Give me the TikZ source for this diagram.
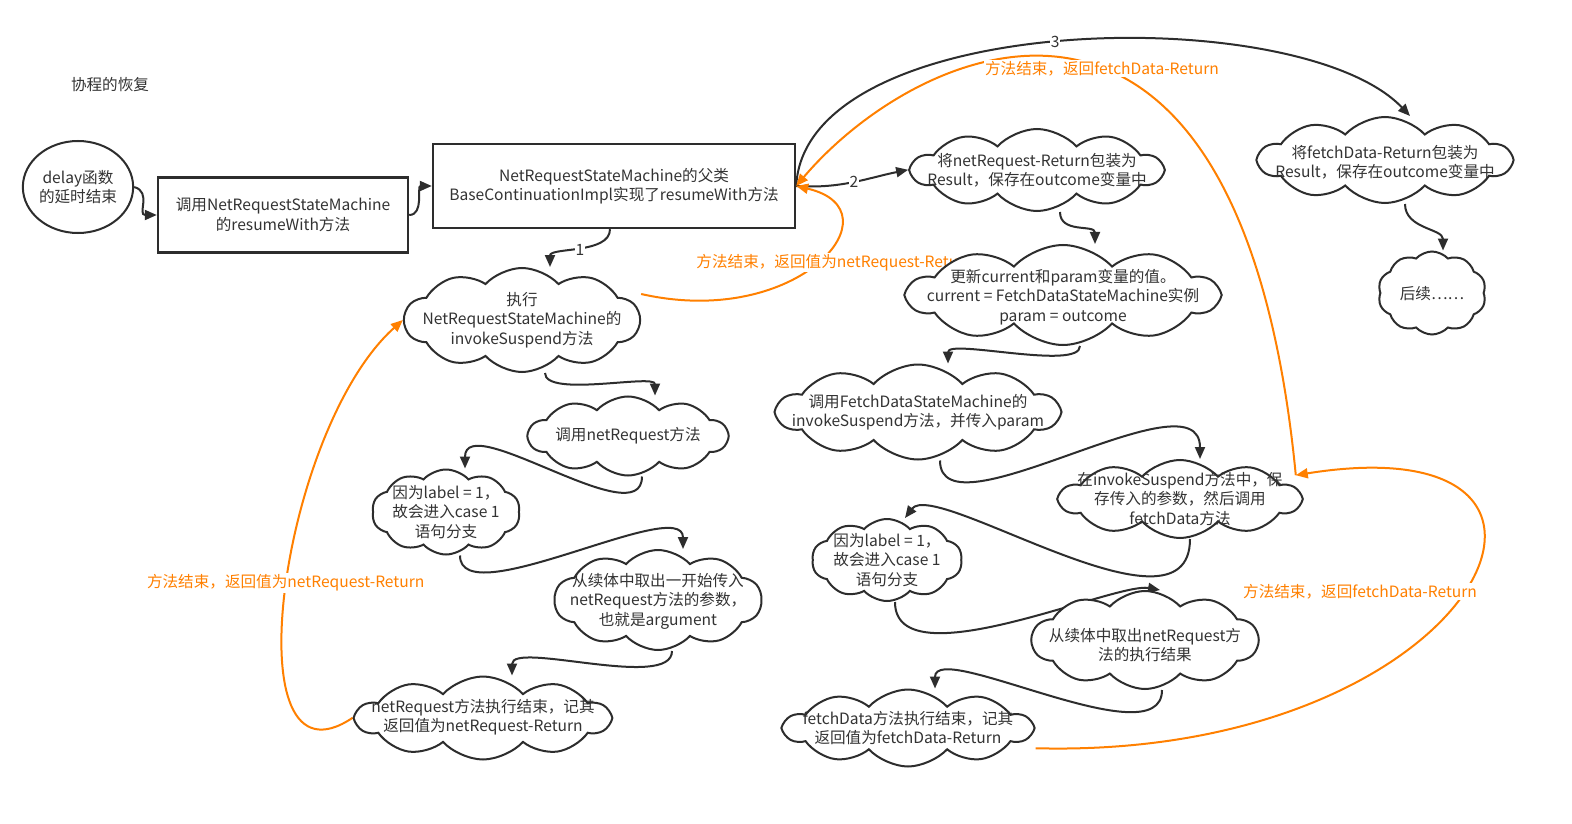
\documentclass[tikz,border=0pt]{standalone}
\usepackage{fontspec}
\setmainfont{Noto Sans CJK SC}
\usepackage{xcolor}
\usepackage{tikz}
\usetikzlibrary{arrows.meta, shapes.geometric, shapes.symbols, backgrounds}
\definecolor{ink}{RGB}{51,51,51}
\definecolor{edge}{RGB}{45,45,45}
\definecolor{orange}{RGB}{255,128,0}
\tikzset{
  txt/.style      ={font=\fontsize{15.6}{19.5}\selectfont, color=ink, align=center, inner sep=0pt},
  cloudbox/.style ={cloud, cloud puffs=10, cloud puff arc=95, cloud ignores aspect,
                    draw=edge, line width=2pt, fill=white, inner sep=0pt},
  rectbox/.style  ={rectangle, draw=edge, line width=2.4pt, fill=white, inner sep=0pt},
  arr/.style      ={-{Triangle[length=12pt, width=10pt]}, line width=2pt, color=edge},
  oarr/.style     ={-{Triangle[length=12pt, width=10pt]}, line width=2pt, color=orange},
  numlabel/.style ={txt, fill=white, inner sep=1pt},
  olabel/.style   ={txt, color=orange, fill=white, inner sep=1.5pt},
}

\begin{document}
\begin{tikzpicture}[x=1pt, y=-1pt]
\useasboundingbox (0,0) rectangle (1572,824);
\node[txt] (title) at (110,85) {协程的恢复};
\node[txt, ellipse, draw=edge, line width=2pt, fill=white, minimum width=104pt, minimum height=92pt] (delay) at (78,187) {delay函数\\的延时结束};
\node[txt, rectbox, minimum width=250pt, minimum height=75pt] (r1) at (283,215) {调用NetRequestStateMachine\\的resumeWith方法};
\node[txt, rectbox, minimum width=362pt, minimum height=84pt] (r2) at (614,186) {NetRequestStateMachine的父类\\BaseContinuationImpl实现了resumeWith方法};
% left column
\node[cloudbox, minimum width=235pt, minimum height=104pt] (cA) at (522,320) {};
\node[txt] (tA) at (522,320) {执行\\NetRequestStateMachine的\\invokeSuspend方法};
\node[cloudbox, minimum width=199pt, minimum height=79pt] (cB) at (628,436) {};
\node[txt] (tB) at (628,436) {调用netRequest方法};
\node[cloudbox, minimum width=148pt, minimum height=85pt] (cC) at (446,512) {};
\node[txt] (tC) at (446,512) {因为label = 1，\\故会进入case 1\\语句分支};
\node[cloudbox, minimum width=207pt, minimum height=100pt] (cD) at (658,600) {};
\node[txt] (tD) at (658,601) {从续体中取出一开始传入\\netRequest方法的参数，\\也就是argument};
\node[cloudbox, minimum width=253pt, minimum height=83pt] (cE) at (483,718) {};
\node[txt] (tE) at (483,717) {netRequest方法执行结束，记其\\返回值为netRequest-Return};
% right column
\node[cloudbox, minimum width=250pt, minimum height=82pt] (cF) at (1037,170) {};
\node[txt] (tF) at (1037,170) {将netRequest-Return包装为\\Result，保存在outcome变量中};
\node[cloudbox, minimum width=310pt, minimum height=100pt] (cG) at (1063,295) {};
\node[txt] (tG) at (1063,297) {更新current和param变量的值。\\current = FetchDataStateMachine实例\\param = outcome};
\node[cloudbox, minimum width=281pt, minimum height=95pt] (cH) at (918,412) {};
\node[txt] (tH) at (918,412) {调用FetchDataStateMachine的\\invokeSuspend方法，并传入param};
\node[cloudbox, minimum width=240pt, minimum height=78pt] (cI) at (1180,499) {};
\node[txt] (tI) at (1180,499) {在invokeSuspend方法中，保\\存传入的参数，然后调用\\fetchData方法};
\node[cloudbox, minimum width=150pt, minimum height=82pt] (cJ) at (887,560) {};
\node[txt] (tJ) at (887,560) {因为label = 1，\\故会进入case 1\\语句分支};
\node[cloudbox, minimum width=226pt, minimum height=98pt] (cK) at (1145,640) {};
\node[txt] (tK) at (1145,645) {从续体中取出netRequest方\\法的执行结果};
\node[cloudbox, minimum width=247pt, minimum height=77pt] (cL) at (908,728) {};
\node[txt] (tL) at (908,728) {fetchData方法执行结束，记其\\返回值为fetchData-Return};
\node[cloudbox, minimum width=252pt, minimum height=86pt] (cM) at (1385,160) {};
\node[txt] (tM) at (1385,162) {将fetchData-Return包装为\\Result，保存在outcome变量中};
\node[cloudbox, minimum width=108pt, minimum height=83pt] (cN) at (1432,293) {};
\node[txt] (tN) at (1432,294) {后续……};

\begin{scope}[on background layer]
\fill[white] (0,0) rectangle (1572,824);
\draw[arr] (delay.east) .. controls +(18,5) and +(-20,0) .. (r1.west);
\draw[arr] (r1.east) .. controls +(15,0) and +(-15,0) .. (r2.west);
\draw[arr] ([xshift=-4pt]r2.south) .. controls +(0,25) and +(0,-20) .. node[numlabel]{1} ([xshift=28pt]cA.north);
\draw[arr] (r2.east) .. controls +(45,3) and +(-40,8) .. node[numlabel]{2} (cF.west);
\draw[arr] (r2.east) .. controls (805,10) and (1300,0) .. node[numlabel, xshift=-10pt]{3} ([xshift=25pt]cM.north);
\draw[arr] ([xshift=23pt]cA.south) .. controls +(0,25) and +(0,-22) .. ([xshift=27pt]cB.north);
\draw[arr] ([xshift=14pt]cB.south) .. controls +(0,60) and +(0,-60) .. ([xshift=19pt]cC.north);
\draw[arr] ([xshift=14pt]cC.south) .. controls +(0,60) and +(0,-55) .. ([xshift=25pt]cD.north);
\draw[arr] ([xshift=14pt]cD.south) .. controls +(0,40) and +(0,-35) .. ([xshift=29pt]cE.north);
\draw[arr] ([xshift=23pt]cF.south) .. controls +(0,22) and +(0,-20) .. ([xshift=32pt]cG.north);
\draw[arr] ([xshift=17pt]cG.south) .. controls +(0,25) and +(0,-25) .. ([xshift=30pt]cH.north);
\draw[arr] ([xshift=22pt]cH.south) .. controls +(0,80) and +(0,-90) .. ([xshift=20pt]cI.north);
\draw[arr] ([xshift=10pt]cI.south) .. controls +(0,110) and +(30,-40) .. ([xshift=18pt]cJ.north);
\draw[arr] ([xshift=8pt]cJ.south) .. controls +(0,80) and +(-45,-8) .. ([xshift=15pt]cK.north);
\draw[arr] ([xshift=17pt]cK.south) .. controls +(0,70) and +(0,-50) .. ([xshift=27pt]cL.north);
\draw[arr] ([xshift=20pt]cM.south) .. controls +(0,25) and +(0,-22) .. ([xshift=11pt]cN.north);
% return paths
\draw[oarr] (cE.west) .. controls (230,800) and (280,430) .. node[olabel, yshift=8pt]{方法结束，返回值为netRequest-Return} (cA.west);
\draw[oarr] ([yshift=26pt]cA.east) .. controls (800,330) and (900,210) .. node[olabel, pos=0.5, xshift=18pt]{方法结束，返回值为netRequest-Return} (r2.east);
\draw[oarr] ([xshift=-8pt, yshift=24pt]cI.east) .. controls (1240,-100) and (920,40) .. node[olabel, pos=0.45]{方法结束，返回fetchData-Return} (r2.east);
\draw[oarr] ([yshift=-20pt]cL.east) .. controls (1480,760) and (1640,420) .. node[olabel, anchor=east, xshift=18pt, yshift=4pt]{方法结束，返回fetchData-Return} ([xshift=-8pt, yshift=24pt]cI.east);
\end{scope}
\end{tikzpicture}
\end{document}
